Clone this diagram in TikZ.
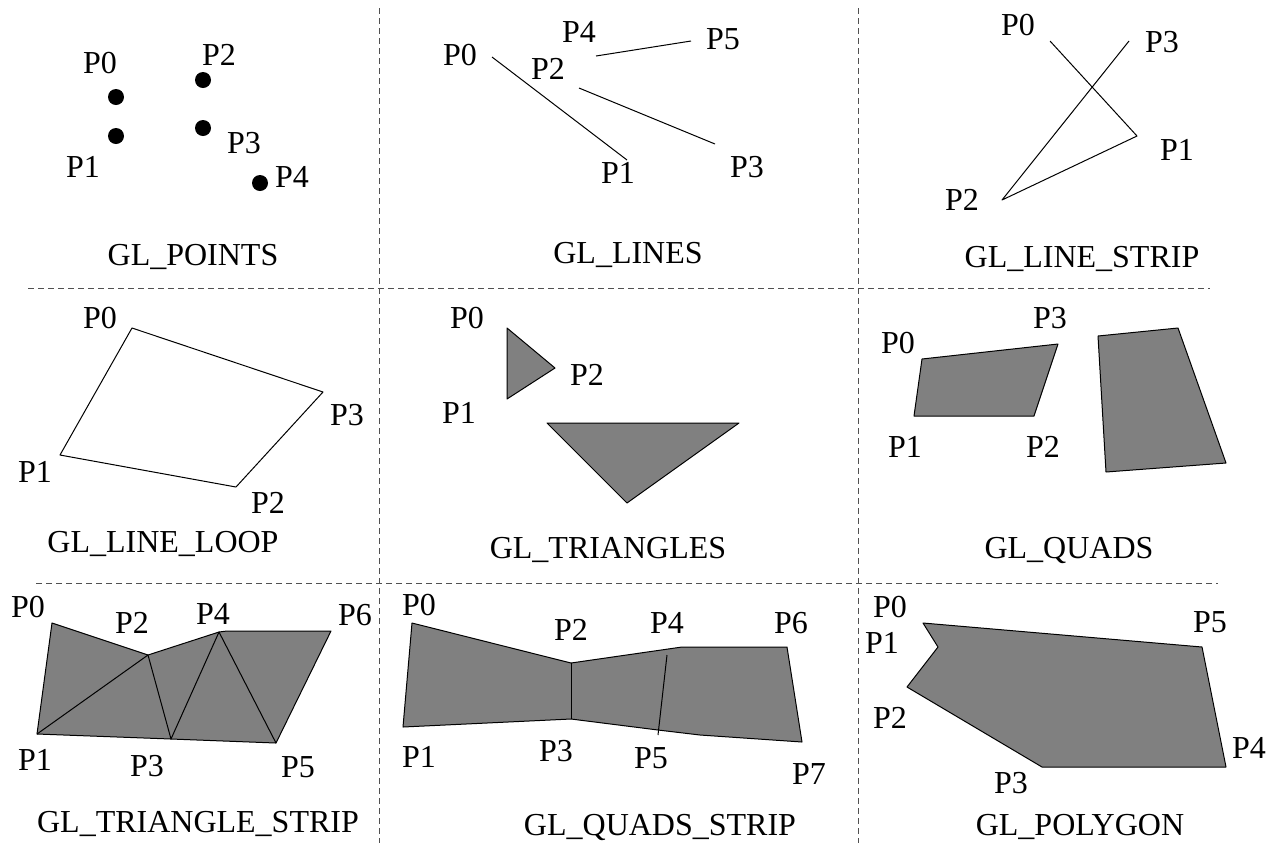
\documentclass[tikz,border=0pt]{standalone}
\usepackage{fontspec}
\setmainfont{Liberation Serif}
\usetikzlibrary{positioning}
\definecolor{facec}{HTML}{808080}
\definecolor{sepc}{HTML}{505050}
\tikzset{
  lbl/.style={font=\fontsize{16}{18}\selectfont,inner sep=0pt},
  ttl/.style={font=\fontsize{16}{18}\selectfont,inner sep=0pt,anchor=base},
  sepl/.style={sepc,line width=0.5pt,dash pattern=on 3pt off 2pt},
  ln/.style={line width=0.5pt,line join=round},
  fc/.style={ln,fill=facec,draw=black}
}
% one vertex label: name, x, y, text
\newcommand{\vtx}[4]{\node[lbl] (#1) at (#2,#3) {#4};}

\begin{document}
\begin{tikzpicture}[x=0.5pt,y=-0.5pt]
\useasboundingbox (0,0) rectangle (1269,843);
% separators
\coordinate (va0) at (379,8); \coordinate (va1) at (379,843);
\coordinate (vb0) at (858,8); \coordinate (vb1) at (858,843);
\coordinate (ha0) at (28,288); \coordinate (ha1) at (1210,288);
\coordinate (hb0) at (36,583); \coordinate (hb1) at (1218,583);
\draw[sepl] (va0)--(va1); \draw[sepl] (vb0)--(vb1);
\draw[sepl] (ha0)--(ha1); \draw[sepl] (hb0)--(hb1);

% GL_POINTS
\foreach \x/\y in {116/97,116/136,203/80,203/128,260/183}{\fill (\x,\y) circle[radius=4pt];}
\vtx{pt0}{100}{63}{P0} \vtx{pt1}{83}{167}{P1} \vtx{pt2}{219}{55}{P2}
\vtx{pt3}{244}{143}{P3} \vtx{pt4}{292}{177}{P4}
\node[ttl] (tpts) at (193,265) {GL\_POINTS};

% GL_LINES
\coordinate (l0) at (492,57); \coordinate (l1) at (627,160);
\coordinate (l2) at (579,88); \coordinate (l3) at (715,144);
\coordinate (l4) at (596,56); \coordinate (l5) at (691,41);
\draw[ln] (l0)--(l1); \draw[ln] (l2)--(l3); \draw[ln] (l4)--(l5);
\vtx{ll0}{460}{55}{P0} \vtx{ll2}{548}{69}{P2} \vtx{ll4}{579}{32}{P4}
\vtx{ll5}{723}{39}{P5} \vtx{ll1}{618}{173}{P1} \vtx{ll3}{747}{167}{P3}
\node[ttl] (tlines) at (628,263) {GL\_LINES};

% GL_LINE_STRIP
\coordinate (s0) at (1050,41); \coordinate (s1) at (1137,136);
\coordinate (s2) at (1002,200); \coordinate (s3) at (1129,41);
\draw[ln] (s0)--(s1)--(s2)--(s3);
\vtx{ls0}{1018}{25}{P0} \vtx{ls3}{1162}{42}{P3}
\vtx{ls1}{1177}{150}{P1} \vtx{ls2}{962}{200}{P2}
\node[ttl] (tstrip) at (1082,267) {GL\_LINE\_STRIP};

% GL_LINE_LOOP
\coordinate (o0) at (132,328); \coordinate (o1) at (60,455);
\coordinate (o2) at (236,487); \coordinate (o3) at (323,392);
\draw[ln] (o0)--(o1)--(o2)--(o3)--cycle;
\vtx{lo0}{100}{318}{P0} \vtx{lo1}{35}{472}{P1}
\vtx{lo2}{268}{503}{P2} \vtx{lo3}{347}{415}{P3}
\node[ttl] (tloop) at (163,552) {GL\_LINE\_LOOP};

% GL_TRIANGLES
\coordinate (t0) at (507,328); \coordinate (t1) at (507,399); \coordinate (t2) at (555,368);
\coordinate (t3) at (547,423); \coordinate (t4) at (739,423); \coordinate (t5) at (627,503);
\draw[fc] (t0)--(t1)--(t2)--cycle;
\draw[fc] (t3)--(t4)--(t5)--cycle;
\vtx{lt0}{467}{318}{P0} \vtx{lt1}{459}{413}{P1} \vtx{lt2}{587}{375}{P2}
\node[ttl] (ttri) at (608,558) {GL\_TRIANGLES};

% GL_QUADS
\coordinate (q0) at (922,359); \coordinate (q1) at (914,416);
\coordinate (q2) at (1034,416); \coordinate (q3) at (1058,344);
\coordinate (q4) at (1098,336); \coordinate (q5) at (1106,472);
\coordinate (q6) at (1226,463); \coordinate (q7) at (1178,328);
\draw[fc] (q0)--(q1)--(q2)--(q3)--cycle;
\draw[fc] (q4)--(q5)--(q6)--(q7)--cycle;
\vtx{lq0}{898}{343}{P0} \vtx{lq3}{1050}{318}{P3}
\vtx{lq1}{905}{447}{P1} \vtx{lq2}{1043}{447}{P2}
\node[ttl] (tquads) at (1069,558) {GL\_QUADS};

% GL_TRIANGLE_STRIP
\coordinate (r0) at (52,623); \coordinate (r1) at (37,734);
\coordinate (r2) at (148,655); \coordinate (r3) at (171,739);
\coordinate (r4) at (219,632); \coordinate (r5) at (276,743);
\coordinate (r6) at (331,631); \coordinate (rk) at (227,631);
\draw[fc] (r0)--(r2)--(r4)--(rk)--(r6)--(r5)--(r3)--(r1)--cycle;
\draw[ln] (r1)--(r2)--(r3)--(r4)--(r5);
\vtx{lr0}{28}{607}{P0} \vtx{lr2}{132}{623}{P2} \vtx{lr4}{213}{614}{P4}
\vtx{lr6}{355}{615}{P6} \vtx{lr1}{35}{760}{P1} \vtx{lr3}{147}{766}{P3}
\vtx{lr5}{298}{767}{P5}
\node[ttl] (ttstrip) at (198,832) {GL\_TRIANGLE\_STRIP};

% GL_QUADS_STRIP
\coordinate (u0) at (412,623); \coordinate (u1) at (403,727);
\coordinate (u2) at (571,663); \coordinate (u3) at (571,719);
\coordinate (u4) at (682,647); \coordinate (u6) at (787,647);
\coordinate (u7) at (802,742); \coordinate (ub) at (700,735);
\coordinate (u5) at (658,730);
\coordinate (m0) at (667,655); \coordinate (m1) at (658,735);
\draw[fc] (u0)--(u2)--(u4)--(u6)--(u7)--(ub)--(u5)--(u3)--(u1)--cycle;
\draw[ln] (u2)--(u3); \draw[ln] (m0)--(m1);
\vtx{lu0}{419}{605}{P0} \vtx{lu2}{571}{630}{P2} \vtx{lu4}{667}{623}{P4}
\vtx{lu6}{791}{623}{P6} \vtx{lu1}{419}{757}{P1} \vtx{lu3}{556}{751}{P3}
\vtx{lu5}{651}{758}{P5} \vtx{lu7}{809}{774}{P7}
\node[ttl] (tqstrip) at (660,835) {GL\_QUADS\_STRIP};

% GL_POLYGON
\coordinate (g0) at (923,623); \coordinate (g1) at (938,647);
\coordinate (g2) at (907,687); \coordinate (g3) at (1042,767);
\coordinate (g4) at (1226,767); \coordinate (g5) at (1202,647);
\draw[fc] (g0)--(g1)--(g2)--(g3)--(g4)--(g5)--cycle;
\vtx{lg0}{890}{607}{P0} \vtx{lg1}{882}{643}{P1} \vtx{lg2}{890}{718}{P2}
\vtx{lg3}{1011}{783}{P3} \vtx{lg5}{1210}{622}{P5} \vtx{lg4}{1249}{748}{P4}
\node[ttl] (tpoly) at (1080,835) {GL\_POLYGON};
\end{tikzpicture}
\end{document}
